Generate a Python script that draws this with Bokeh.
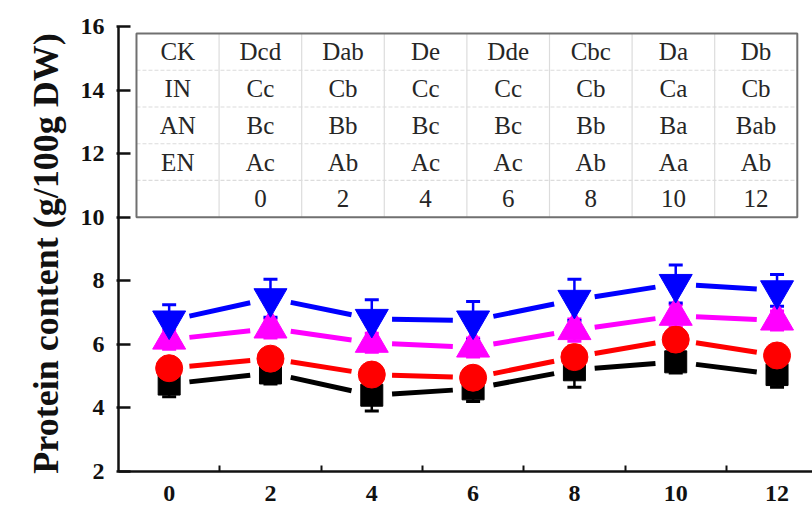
import numpy as np
from bokeh.plotting import figure
from bokeh.models import FixedTicker, Whisker, ColumnDataSource, Range1d
from bokeh.core.properties import value
from bokeh.embed import file_html
from bokeh.resources import INLINE

# ---- data ----
days = [0, 2, 4, 6, 8, 10, 12]
ck = [4.75, 5.1, 4.4, 4.6, 5.2, 5.45, 5.05]
ck_err = [0.4, 0.35, 0.5, 0.4, 0.55, 0.35, 0.4]
inn = [5.25, 5.55, 5.05, 4.95, 5.6, 6.15, 5.65]
inn_err = [0.3, 0.3, 0.3, 0.3, 0.35, 0.35, 0.3]
an = [6.15, 6.5, 6.05, 5.9, 6.45, 6.9, 6.75]
an_err = [0.3, 0.3, 0.3, 0.3, 0.35, 0.35, 0.3]
en = [6.75, 7.45, 6.8, 6.75, 7.4, 7.9, 7.7]
en_err = [0.5, 0.6, 0.6, 0.6, 0.65, 0.6, 0.5]

row_labels = ["CK", "IN", "AN", "EN", ""]
letters_ck = ["Dcd", "Dab", "De", "Dde", "Cbc", "Da", "Db"]
letters_in = ["Cc", "Cb", "Cc", "Cc", "Cb", "Ca", "Cb"]
letters_an = ["Bc", "Bb", "Bc", "Bc", "Bb", "Ba", "Bab"]
letters_en = ["Ac", "Ab", "Ac", "Ac", "Ab", "Aa", "Ab"]
day_labels = ["0", "2", "4", "6", "8", "10", "12"]

SERIF = "Liberation Serif"

p = figure(width=812, height=514, output_backend="svg", toolbar_location=None,
           x_range=Range1d(-1, 12.70), y_range=Range1d(2, 16),
           min_border_left=118, min_border_right=0, min_border_top=26,
           min_border_bottom=43)
p.outline_line_color = None
p.grid.visible = False
p.background_fill_color = "white"

# axes
p.xaxis.ticker = FixedTicker(ticks=days, minor_ticks=[1, 3, 5, 7, 9, 11])
p.xaxis.major_tick_in = 0
p.xaxis.major_tick_out = 0
p.xaxis.minor_tick_in = 6
p.xaxis.minor_tick_out = 0
p.xaxis.minor_tick_line_width = 2
p.yaxis.ticker = FixedTicker(ticks=[2, 4, 6, 8, 10, 12, 14, 16], minor_ticks=[])
p.yaxis.major_tick_in = 12
p.yaxis.major_tick_out = 2
p.yaxis.minor_tick_in = 0
p.yaxis.minor_tick_out = 0
for ax in (p.xaxis, p.yaxis):
    ax.axis_line_width = 2.5
    ax.axis_line_color = "#111111"
    ax.major_tick_line_width = 2.5
    ax.major_tick_line_color = "#111111"
    ax.minor_tick_line_color = "#111111"
    ax.major_label_text_font = SERIF
    ax.major_label_text_font_style = "bold"
    ax.major_label_text_font_size = "24px"
    ax.major_label_text_color = "#111111"
p.xaxis.major_label_standoff = 14
p.yaxis.major_label_standoff = 12
p.yaxis.axis_label = "Protein content (g/100g  DW)"
p.yaxis.axis_label_text_font = SERIF
p.yaxis.axis_label_text_font_style = "bold"
p.yaxis.axis_label_text_font_size = "36px"
p.yaxis.axis_label_text_color = "#111111"
p.yaxis.axis_label_standoff = 12

# ---- table (in data coordinates) ----
tbl_left, tbl_right = -0.645, 12.4
tbl_top, tbl_bot = 15.78, 10.0
ncol, nrow = 8, 5
cw = (tbl_right - tbl_left) / ncol
rh = (tbl_top - tbl_bot) / nrow
vx = [tbl_left + cw * i for i in range(1, ncol)]
p.segment(x0=vx, y0=[tbl_bot] * len(vx), x1=vx, y1=[tbl_top] * len(vx),
          line_color="#dcdcdc", line_width=1.2)
hy = [tbl_bot + rh * i for i in range(1, nrow)]
p.segment(x0=[tbl_left] * len(hy), y0=hy, x1=[tbl_right] * len(hy), y1=hy,
          line_color="#dcdcdc", line_width=1.2, line_dash="4 2")
p.quad(left=[tbl_left], right=[tbl_right], bottom=[tbl_bot], top=[tbl_top],
       fill_color=None, line_color="#707070", line_width=2)

rows = [letters_ck, letters_in, letters_an, letters_en, day_labels]
tx, ty, tt = [], [], []
for r, (lab, vals) in enumerate(zip(row_labels, rows)):
    yc = tbl_top - rh * (r + 0.5)
    tx.append(tbl_left + cw * 0.5); ty.append(yc); tt.append(lab)
    for c, v in enumerate(vals):
        tx.append(tbl_left + cw * (c + 1.5)); ty.append(yc); tt.append(v)
p.text(x=tx, y=ty, text=tt, text_font=value(SERIF), text_font_size="25px",
       text_align="center", text_baseline="middle", text_color="#262626")

# ---- series ----
series = [
    (ck, ck_err, "black", "square", 22),
    (inn, inn_err, "#ff0000", "circle", 27),
    (an, an_err, "#ff00ff", "triangle", 33),
    (en, en_err, "#0000ff", "inverted_triangle", 33),
]
gap = 0.4
xs = np.array(days, dtype=float)
for vals, err, col, mk, sz in series:
    v = np.array(vals, dtype=float)
    e = np.array(err, dtype=float)
    x0, x1 = xs[:-1], xs[1:]
    y0, y1 = v[:-1], v[1:]
    dx = x1 - x0
    sx0 = x0 + gap
    sx1 = x1 - gap
    sy0 = y0 + (y1 - y0) * gap / dx
    sy1 = y1 - (y1 - y0) * gap / dx
    p.segment(x0=sx0, y0=sy0, x1=sx1, y1=sy1, line_color=col, line_width=5)
    src = ColumnDataSource(dict(x=xs, y=v, lo=v - e, hi=v + e))
    w = Whisker(base="x", lower="lo", upper="hi", source=src,
                line_color=col, line_width=2.5)
    w.upper_head.line_color = col
    w.lower_head.line_color = col
    w.upper_head.line_width = 3
    w.lower_head.line_width = 3
    w.upper_head.size = 14
    w.lower_head.size = 14
    p.add_layout(w)
    p.scatter(x="x", y="y", source=src, marker=mk, size=sz,
              fill_color=col, line_color=col, line_width=1)

open("out.html", "w").write(file_html(p, INLINE))
